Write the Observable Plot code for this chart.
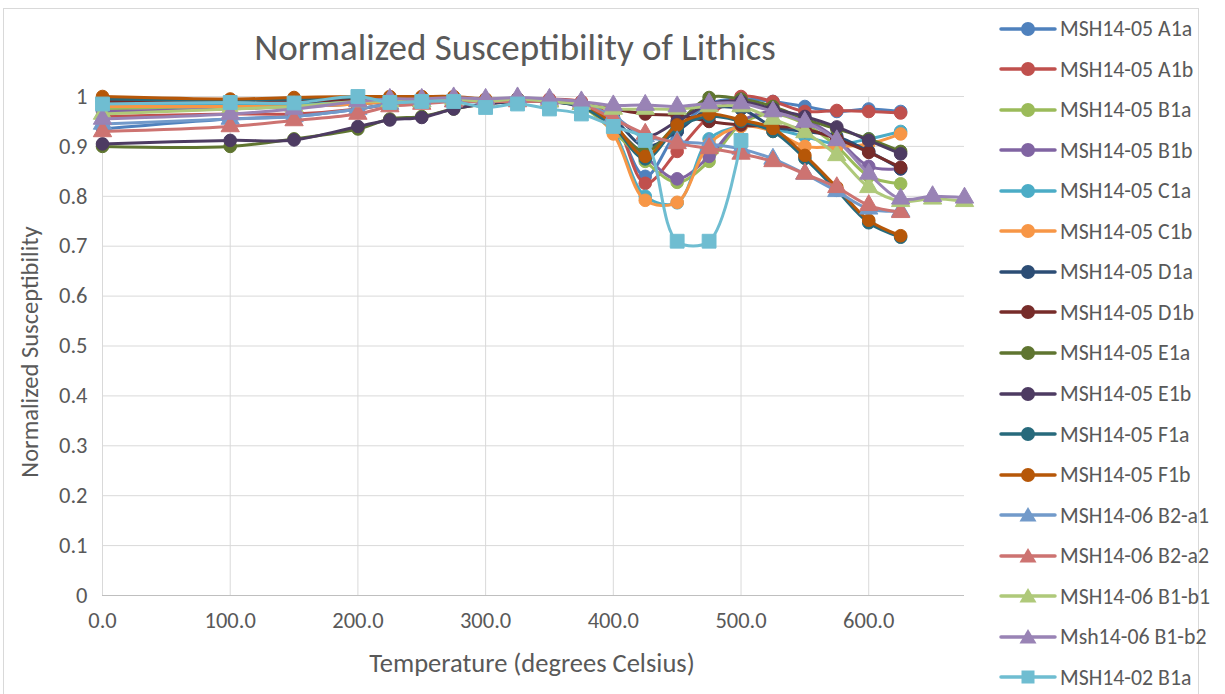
<!DOCTYPE html>
<html>
<head>
<meta charset="utf-8">
<script src="https://cdn.jsdelivr.net/npm/d3@7"></script>
<script src="https://cdn.jsdelivr.net/npm/@observablehq/plot@0.6"></script>
<style>
  html, body { margin: 0; padding: 0; background: #fff; }
  #wrap { position: relative; width: 1225px; height: 694px; overflow: hidden; font-family: Carlito, Lato, sans-serif; color: #595959; }
  #border { position: absolute; left: 3px; top: 8px; width: 1196px; height: 720px; border: 1px solid #d9d9d9; box-sizing: border-box; }
  #title { position: absolute; left: 0; width: 1030px; top: 26px; text-align: center; font-size: 37px; line-height: 43px; }
  #ylabel { position: absolute; left: 30px; top: 352px; transform: translate(-50%, -50%) rotate(-90deg); white-space: nowrap; font-size: 24.5px; }
  #xlabel { position: absolute; left: 532px; top: 663px; transform: translate(-50%, -50%); white-space: nowrap; font-size: 26.5px; }
  #legend { position: absolute; left: 998px; top: 0; }
  .li { position: absolute; left: 0; height: 30px; display: flex; align-items: center; white-space: nowrap; font-size: 21.8px; }
  .li svg { margin-right: 2px; }
  #chart { position: absolute; left: 0; top: 0; }
</style>
</head>
<body>
<div id="wrap">
  <div id="border"></div>
  <div id="chart"></div>
  <div id="title">Normalized Susceptibility of Lithics</div>
  <div id="ylabel">Normalized Susceptibility</div>
  <div id="xlabel">Temperature (degrees Celsius)</div>
  <div id="legend"></div>
</div>
<script>
// ---- data ----
const temps = [0,100,150,200,225,250,275,300,325,350,375,400,425,450,475,500,525,550,575,600,625];
const tempsExt = [0,100,150,200,225,250,275,300,325,350,375,400,425,450,475,500,525,550,575,600,625,650,675];
const tempsSq = [0,100,150,200,225,250,275,300,325,350,375,400,425,450,475,500];

const seriesNames = [
  "MSH14-05 A1a","MSH14-05 A1b","MSH14-05 B1a","MSH14-05 B1b","MSH14-05 C1a","MSH14-05 C1b",
  "MSH14-05 D1a","MSH14-05 D1b","MSH14-05 E1a","MSH14-05 E1b","MSH14-05 F1a","MSH14-05 F1b",
  "MSH14-06 B2-a1","MSH14-06 B2-a2","MSH14-06 B1-b1","Msh14-06 B1-b2","MSH14-02 B1a"
];
const seriesColors = [
  "#4F81BD","#C0504D","#9BBB59","#8064A2","#4BACC6","#F79646",
  "#2C4D75","#772C2A","#5F7530","#4D3B62","#276A7C","#B65708",
  "#729ACA","#CD7371","#AFC97A","#9983B5","#6FBDD1"
];
const seriesSymbols = [
  "circle","circle","circle","circle","circle","circle",
  "circle","circle","circle","circle","circle","circle",
  "triangle","triangle","triangle","triangle","square"
];

const A1a = [0.935,0.955,0.96,0.975,0.985,0.99,0.99,0.99,0.995,0.99,0.985,0.95,0.84,0.93,0.985,0.995,0.99,0.98,0.97,0.975,0.97];
const A1b = [0.96,0.965,0.965,0.975,0.985,0.99,0.995,0.99,0.995,0.995,0.99,0.955,0.826,0.89,0.96,1.0,0.99,0.97,0.972,0.97,0.967];
const B1a = [0.975,0.98,0.98,0.985,0.99,0.99,0.995,0.99,0.995,0.99,0.98,0.93,0.87,0.828,0.87,0.945,0.965,0.945,0.9,0.84,0.825];
const B1b = [0.97,0.975,0.98,0.985,0.99,0.99,0.995,0.99,0.995,0.99,0.985,0.94,0.88,0.835,0.88,0.95,0.97,0.955,0.915,0.86,0.855];
const C1a = [0.985,0.985,0.985,0.99,0.99,0.99,0.995,0.99,0.995,0.99,0.985,0.93,0.80,0.787,0.915,0.94,0.935,0.92,0.905,0.915,0.93];
const C1b = [0.98,0.98,0.98,0.985,0.99,0.99,0.995,0.99,0.995,0.99,0.985,0.925,0.792,0.788,0.905,0.94,0.93,0.9,0.9,0.905,0.925];
const D1a = [0.99,0.99,0.99,0.995,0.995,0.995,0.995,0.99,0.995,0.99,0.985,0.955,0.9,0.93,0.975,0.975,0.94,0.93,0.92,0.89,0.855];
const D1b = [0.99,0.99,0.99,0.995,0.995,0.995,0.995,0.99,0.995,0.99,0.985,0.975,0.965,0.962,0.95,0.943,0.94,0.935,0.915,0.888,0.858];
const E1a = [0.90,0.90,0.915,0.935,0.955,0.96,0.975,0.985,0.99,0.99,0.98,0.94,0.89,0.945,0.998,0.995,0.98,0.955,0.935,0.915,0.89];
const E1b = [0.905,0.912,0.913,0.94,0.953,0.958,0.975,0.985,0.99,0.99,0.98,0.96,0.92,0.95,0.985,0.99,0.975,0.96,0.939,0.912,0.885];
const F1a = [0.995,0.993,0.995,0.998,0.998,0.998,0.998,0.99,0.995,0.99,0.98,0.94,0.875,0.937,0.96,0.95,0.93,0.876,0.812,0.747,0.718];
const F1b = [1.0,0.995,0.998,1.0,1.0,1.0,1.0,0.995,0.995,0.99,0.985,0.945,0.88,0.943,0.965,0.953,0.936,0.882,0.818,0.752,0.721];
const B2a1 = [0.945,0.955,0.96,0.975,0.985,0.99,0.99,0.99,0.995,0.99,0.985,0.96,0.92,0.91,0.905,0.895,0.875,0.845,0.81,0.775,0.77];
const B2a2 = [0.93,0.94,0.952,0.965,0.98,0.985,0.99,0.99,0.99,0.99,0.985,0.955,0.925,0.906,0.896,0.885,0.87,0.845,0.818,0.782,0.768];
const B1b1 = [0.965,0.975,0.98,0.99,0.99,0.99,0.995,0.99,0.995,0.99,0.985,0.975,0.975,0.975,0.98,0.98,0.955,0.928,0.882,0.818,0.79,0.795,0.79];
const B1b2 = [0.955,0.965,0.975,0.99,0.995,0.995,0.998,0.995,0.998,0.995,0.99,0.982,0.983,0.98,0.986,0.986,0.97,0.949,0.912,0.845,0.795,0.8,0.797];
const B1a02 = [0.985,0.988,0.987,1.0,0.988,0.99,0.99,0.978,0.985,0.975,0.965,0.94,0.912,0.71,0.71,0.912];

const seriesValues = [A1a,A1b,B1a,B1b,C1a,C1b,D1a,D1b,E1a,E1b,F1a,F1b,B2a1,B2a2,B1b1,B1b2,B1a02];
const seriesTemps = [temps,temps,temps,temps,temps,temps,temps,temps,temps,temps,temps,temps,temps,temps,tempsExt,tempsExt,tempsSq];

const xTicks = [0,100,200,300,400,500,600];
const yTicks = [0,0.1,0.2,0.3,0.4,0.5,0.6,0.7,0.8,0.9,1];

// ---- chart ----
const symR = {circle: 6.3, triangle: 6.8, square: 7.8};
const marks = [
  Plot.gridY(yTicks.filter(d => d > 0), {stroke: "#d9d9d9", strokeOpacity: 1, strokeWidth: 1}),
  Plot.gridX(xTicks, {stroke: "#d9d9d9", strokeOpacity: 1, strokeWidth: 1}),
  Plot.ruleY([0], {stroke: "#bfbfbf", strokeWidth: 1}),
  Plot.axisX(xTicks, {tickSize: 0, tickPadding: 17, tickFormat: d => d.toFixed(1), label: null, fill: "#595959", fontSize: 22.5}),
  Plot.axisY(yTicks, {tickSize: 0, tickPadding: 15, tickFormat: d => String(d), label: null, fill: "#595959", fontSize: 22.5})
];
seriesNames.forEach((name, k) => {
  const data = seriesTemps[k].map((t, i) => ({t, v: seriesValues[k][i]}));
  marks.push(Plot.line(data, {x: "t", y: "v", stroke: seriesColors[k], strokeWidth: 3, curve: "catmull-rom"}));
  marks.push(Plot.dot(data, {x: "t", y: "v", symbol: seriesSymbols[k], r: symR[seriesSymbols[k]], fill: seriesColors[k], stroke: seriesColors[k], strokeWidth: 1}));
});

const chart = Plot.plot({
  width: 1225,
  height: 694,
  marginLeft: 102,
  marginRight: 261,
  marginTop: 96,
  marginBottom: 99,
  x: {domain: [0, 675]},
  y: {domain: [0, 1]},
  style: {fontFamily: "Carlito, Lato, sans-serif", fontSize: "22px", color: "#595959", background: "transparent", overflow: "visible"},
  marks
});
document.getElementById("chart").appendChild(chart);

// ---- legend ----
const legend = document.getElementById("legend");
seriesNames.forEach((name, k) => {
  const cy = 28.5 + k * 40.56;
  const item = document.createElement("div");
  item.className = "li";
  item.style.top = (cy - 15) + "px";
  const c = seriesColors[k];
  const s = seriesSymbols[k];
  let sym;
  if (s === "circle") sym = `<circle cx="30" cy="15" r="7" fill="${c}"/>`;
  else if (s === "triangle") sym = `<path d="M30,7 L38.5,21.5 L21.5,21.5 Z" fill="${c}"/>`;
  else sym = `<rect x="23.5" y="8.5" width="13" height="13" fill="${c}"/>`;
  item.innerHTML = `<svg width="60" height="30"><line x1="3" y1="15" x2="57" y2="15" stroke="${c}" stroke-width="3.5" stroke-linecap="round"/>${sym}</svg><span>${name}</span>`;
  legend.appendChild(item);
});
</script>
</body>
</html>
